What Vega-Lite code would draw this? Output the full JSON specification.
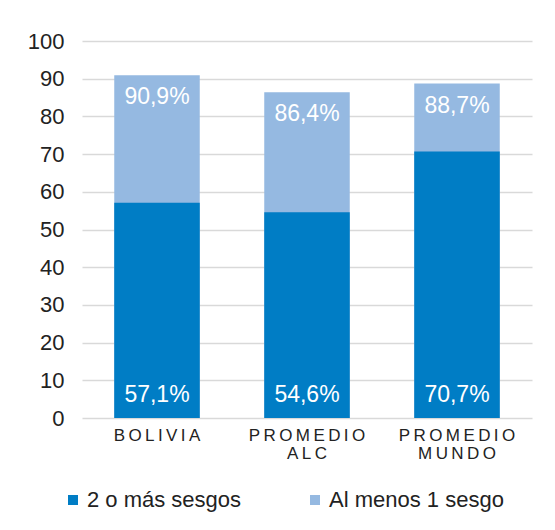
{
  "$schema": "https://vega.github.io/schema/vega-lite/v6.json",
  "autosize": "none",
  "width": 450,
  "height": 377,
  "padding": {"left": 82, "top": 41, "right": 23, "bottom": 112},
  "background": "white",
  "config": {
    "view": {"stroke": null},
    "font": "Liberation Sans",
    "axis": {"labelFont": "Liberation Sans", "labelColor": "#222222"}
  },
  "data": {
    "values": [
      {"region": "BOLIVIA", "serie": "Al menos 1 sesgo", "valor": 90.9},
      {"region": "PROMEDIO ALC", "serie": "Al menos 1 sesgo", "valor": 86.4},
      {"region": "PROMEDIO MUNDO", "serie": "Al menos 1 sesgo", "valor": 88.7},
      {"region": "BOLIVIA", "serie": "2 o más sesgos", "valor": 57.1},
      {"region": "PROMEDIO ALC", "serie": "2 o más sesgos", "valor": 54.6},
      {"region": "PROMEDIO MUNDO", "serie": "2 o más sesgos", "valor": 70.7}
    ]
  },
  "transform": [
    {"calculate": "replace(format(datum.valor, '.1f'), '.', ',') + '%'", "as": "etiqueta"}
  ],
  "encoding": {
    "x": {
      "field": "region",
      "type": "nominal",
      "sort": ["BOLIVIA", "PROMEDIO ALC", "PROMEDIO MUNDO"],
      "scale": {"paddingInner": 0.43, "paddingOuter": 0.215},
      "axis": {
        "title": null,
        "labelAngle": 0,
        "ticks": false,
        "domain": false,
        "labelFontSize": 17,
        "labelPadding": 9,
        "labelLineHeight": 18,
        "labelExpr": "split(replace(datum.label, regexp('(\\\\S)(?=\\\\S)', 'g'), '$1\u2009'), ' ')"
      }
    }
  },
  "layer": [
    {
      "mark": {"type": "bar"},
      "encoding": {
        "y": {
          "field": "valor",
          "type": "quantitative",
          "stack": null,
          "scale": {"domain": [0, 100]},
          "axis": {
            "title": null,
            "values": [0, 10, 20, 30, 40, 50, 60, 70, 80, 90, 100],
            "tickCount": 12,
            "labelOverlap": false,
            "ticks": false,
            "domain": false,
            "labelFontSize": 22,
            "labelPadding": 18,
            "gridColor": "#d9d9d9",
            "gridWidth": 1.3
          }
        },
        "color": {
          "field": "serie",
          "type": "nominal",
          "scale": {"domain": ["2 o más sesgos", "Al menos 1 sesgo"], "range": ["#007DC5", "#95B9E1"]},
          "legend": {
            "title": null,
            "orient": "none",
            "direction": "horizontal",
            "legendX": -20,
            "legendY": 448,
            "symbolType": "square",
            "symbolSize": 100,
            "symbolStrokeWidth": 0,
            "labelFontSize": 22,
            "labelLimit": 400,
            "labelFont": "Liberation Sans",
            "labelColor": "#222222",
            "labelOffset": 3,
            "columnPadding": 62
          }
        }
      }
    },
    {
      "transform": [{"filter": "datum.serie == 'Al menos 1 sesgo'"}],
      "mark": {"type": "text", "color": "white", "fontSize": 23, "baseline": "middle", "dy": 22},
      "encoding": {
        "y": {"field": "valor", "type": "quantitative"},
        "text": {"field": "etiqueta"}
      }
    },
    {
      "transform": [{"filter": "datum.serie == '2 o más sesgos'"}],
      "mark": {"type": "text", "color": "white", "fontSize": 23, "baseline": "middle", "dy": -23},
      "encoding": {
        "y": {"datum": 0, "type": "quantitative"},
        "text": {"field": "etiqueta"}
      }
    }
  ]
}
